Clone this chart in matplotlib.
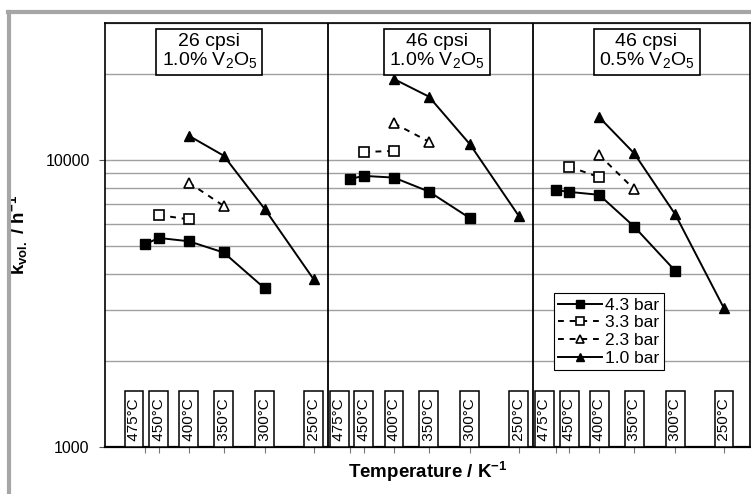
import numpy as np
import matplotlib
matplotlib.use("Agg")
import matplotlib.pyplot as plt
from matplotlib.lines import Line2D
from matplotlib.ticker import FixedLocator, FixedFormatter, NullFormatter, LogLocator

plt.rcParams['font.family'] = ['Liberation Sans', 'DejaVu Sans']
plt.rcParams['mathtext.fontset'] = 'custom'
plt.rcParams['mathtext.rm'] = 'Liberation Sans'
plt.rcParams['mathtext.bf'] = 'Liberation Sans:bold'
plt.rcParams['mathtext.default'] = 'regular'

# temperatures (deg C) used as x positions (plotted as 1000/T)
temps = [475, 450, 400, 350, 300, 250]
temp_labels = ["475°C", "450°C", "400°C", "350°C", "300°C", "250°C"]

panel_titles = ["26 cpsi\n1.0% V$_2$O$_5$",
                "46 cpsi\n1.0% V$_2$O$_5$",
                "46 cpsi\n0.5% V$_2$O$_5$"]

# temperatures measured per pressure
t_43 = [475, 450, 400, 350, 300]
t_33 = [450, 400]
t_23 = [400, 350]
t_10 = [400, 350, 300, 250]

# k_vol (1/h), one list per panel
p1_43 = [5080, 5350, 5210, 4760, 3570]
p1_33 = [6430, 6210]
p1_23 = [8340, 6920]
p1_10 = [12150, 10350, 6750, 3840]

p2_43 = [8590, 8800, 8680, 7760, 6270]
p2_33 = [10660, 10750]
p2_23 = [13420, 11580]
p2_10 = [19140, 16620, 11340, 6380]

p3_43 = [7860, 7740, 7560, 5860, 4110]
p3_33 = [9480, 8710]
p3_23 = [10410, 7910]
p3_10 = [14090, 10550, 6470, 3040]

panels = [(p1_43, p1_33, p1_23, p1_10),
          (p2_43, p2_33, p2_23, p2_10),
          (p3_43, p3_33, p3_23, p3_10)]

shift = 0.7  # x offset between panels (1000/T units)


def invT(t, k):
    return 1000.0 / (np.array(t) + 273.15) + k * shift


fig = plt.figure(figsize=(7.51, 4.94), dpi=100)
ax = fig.add_axes([105 / 751, 47 / 494, 645 / 751, 424 / 494])

# outer grey frame (cut at right and bottom)
fig.add_artist(Line2D([9 / 751, 9 / 751], [0, 1 - 12 / 494], transform=fig.transFigure,
                      color='#a6a6a6', lw=3))
fig.add_artist(Line2D([7.5 / 751, 1], [1 - 12.5 / 494, 1 - 12.5 / 494], transform=fig.transFigure,
                      color='#a6a6a6', lw=3))

ax.set_yscale('log')
ax.set_ylim(1000, 30000)
ax.set_xlim(1.2, 3.4)

ax.yaxis.set_major_locator(FixedLocator([1000, 10000]))
ax.yaxis.set_major_formatter(FixedFormatter(["1000", "10000"]))
ax.yaxis.set_minor_locator(LogLocator(base=10, subs=np.arange(2, 10)))
ax.yaxis.set_minor_formatter(NullFormatter())
ax.grid(True, which='both', axis='y', color='#a0a0a0', lw=1.0)
ax.tick_params(axis='y', which='major', direction='out', length=4, width=0.8,
               pad=7, labelsize=11.5, color='#555555')
ax.tick_params(axis='y', which='minor', length=0)

xt = []
for k in range(3):
    xt += list(invT(temps, k))
ax.set_xticks(xt)
ax.set_xticklabels([])
ax.tick_params(axis='x', direction='out', length=4, width=0.8, color='#777777')

for s in ax.spines.values():
    s.set_color('black')
    s.set_linewidth(1.2)
ax.spines['bottom'].set_linewidth(1.6)

for xs in (1.96, 2.66):
    ax.axvline(xs, color='black', lw=1.3, zorder=3)

sty = dict(color='black', lw=1.4, markersize=7.5)
for k, (s43, s33, s23, s10) in enumerate(panels):
    ax.plot(invT(t_43, k), s43, '-', marker='s', mfc='black', mec='black',
            label='4.3 bar', zorder=4, **sty)
    ax.plot(invT(t_33, k), s33, linestyle=(0, (3, 3)), marker='s', mfc='white', mec='black',
            mew=1.2, label='3.3 bar', zorder=4, **sty)
    ax.plot(invT(t_23, k), s23, linestyle=(0, (3, 3)), marker='^', mfc='white', mec='black',
            mew=1.2, label='2.3 bar', zorder=4, **sty)
    ax.plot(invT(t_10, k), s10, '-', marker='^', mfc='black', mec='black',
            label='1.0 bar', zorder=4, **sty)

    # temperature label boxes along the bottom
    for t, lab in zip(temps, temp_labels):
        dx = -8 if t == 475 else 0
        ax.annotate(" " + lab + " ", xy=(invT(t, k), 0), xycoords=('data', 'axes fraction'),
                    xytext=(dx, 1.8), textcoords='offset points',
                    rotation=90, ha='center', va='bottom', fontsize=11,
                    bbox=dict(boxstyle='square,pad=0.16', fc='white', ec='black', lw=1.1),
                    zorder=6)

# panel title boxes
title_x = [1.556, 2.331, 3.047]
for xx, ttl in zip(title_x, panel_titles):
    ax.text(xx, 0.933, ttl, transform=ax.get_xaxis_transform(), ha='center', va='center',
            fontsize=14, linespacing=1.02,
            bbox=dict(boxstyle='square,pad=0.27', fc='white', ec='black', lw=1.2), zorder=7)

h, l = ax.get_legend_handles_labels()
leg = ax.legend(h[:4], l[:4], loc='upper left', bbox_to_anchor=(0.696, 0.363),
                borderaxespad=0, fontsize=12.5, frameon=True, fancybox=False,
                edgecolor='black', framealpha=1, handlelength=2.5, handletextpad=0.2,
                labelspacing=0.15, borderpad=0.25, markerscale=0.8)
leg.get_frame().set_linewidth(0.8)
leg.set_zorder(8)

ax.set_ylabel("k$_{vol.}$ / h$^{-1}$", fontsize=13.5, fontweight='bold')
ax.yaxis.set_label_coords(-0.116, 0.5)
ax.set_xlabel("Temperature / K$^{-1}$", fontsize=13.5, fontweight='bold')
ax.xaxis.set_label_coords(0.5, -0.03)

fig.savefig("out.png", dpi=100)
